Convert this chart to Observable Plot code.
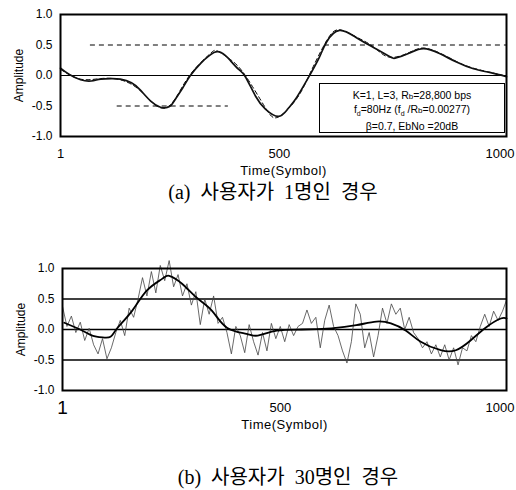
<!DOCTYPE html>
<html><head><meta charset="utf-8">
<script src="https://cdn.jsdelivr.net/npm/d3@7"></script>
<script src="https://cdn.jsdelivr.net/npm/@observablehq/plot@0.6"></script>
<style>
body{margin:0;background:#fff;width:516px;height:490px;position:relative;overflow:hidden;font-family:"Liberation Sans",Arial,sans-serif}
.abs{position:absolute}
.cap{font-family:"Liberation Serif","Noto Sans CJK KR",serif;font-size:20px;line-height:20px;word-spacing:5px;white-space:nowrap;transform:translateX(-50%)}
.legend{border:1.5px solid #000;background:#fff;font-size:10.5px;line-height:12px;text-align:center;box-sizing:border-box;padding-top:5px}
g[aria-label="x-axis label"] text{letter-spacing:0.5px;font-weight:normal}
</style></head><body>
<div id="a" class="abs" style="left:0;top:0"></div>
<div class="abs legend" style="left:319px;top:83px;width:186px;height:50px">K=1, L=3, R<sub style="font-size:8px;vertical-align:baseline">b</sub>=28,800 bps<br>f<sub style="font-size:7px">d</sub>=80Hz (f<sub style="font-size:7px">d</sub> /R<sub style="font-size:8px;vertical-align:baseline">b</sub>=0.00277)<br>β=0.7, EbNo =20dB</div>
<div class="abs cap" style="left:273px;top:182px">(a) 사용자가 1명인 경우</div>
<div id="b" class="abs" style="left:0;top:250px"></div>
<div class="abs cap" style="left:288px;top:467px">(b) 사용자가 30명인 경우</div>
<script>
// ---- shared axis data ----
const xTickStart = [1];
const xTickMid = [500];
const xTickEnd = [1000];
const yTicks = [-1, -0.5, 0, 0.5, 1];

// ---- chart (a): one user ----
const aTime = [1,20,46,70,91,115,135,160,180,203,225,245,259,275,292,315,335,353,370,382,400,415,438,460,489,510,530,559,581,597,626,664,702,738,754,783,814,850,888,926,962,1000];
const aMeasured = [0.12,0.02,-0.07,-0.09,-0.06,-0.05,-0.06,-0.12,-0.24,-0.42,-0.52,-0.51,-0.38,-0.2,0.0,0.2,0.33,0.39,0.33,0.24,0.1,-0.02,-0.34,-0.55,-0.67,-0.55,-0.36,0.0,0.3,0.55,0.74,0.62,0.46,0.31,0.29,0.37,0.44,0.36,0.22,0.11,0.05,-0.02];
const aIdealTime = [1,46,91,135,180,225,259,292,335,353,382,415,460,489,530,559,597,626,664,702,738,783,814,850,888,926,1000];
const aIdeal = [0.1,-0.06,-0.05,-0.07,-0.25,-0.53,-0.37,0.02,0.35,0.4,0.26,0.0,-0.53,-0.68,-0.38,0.02,0.57,0.75,0.63,0.47,0.3,0.38,0.45,0.37,0.23,0.12,-0.01];
const aDashLevel = [0.5, -0.5];
const aDashStart = [68, 128];
const aDashEnd = [1000, 377];

// ---- chart (b): thirty users ----
const bSmoothTime = [5,46,68,91,109,124,158,191,225,241,270,303,337,371,415,440,483,539,606,662,707,740,774,807,852,886,919,953,987,1000];
const bSmooth = [0.11,-0.02,-0.1,-0.13,-0.12,0.02,0.31,0.64,0.83,0.88,0.75,0.52,0.31,0.03,-0.07,-0.1,-0.02,0.0,0.02,0.07,0.13,0.1,-0.02,-0.2,-0.34,-0.34,-0.18,0.03,0.18,0.18];
const bNoisyTime = [1,11,21,31,41,51,61,71,81,91,101,111,121,131,141,151,161,171,181,191,201,211,221,231,241,251,261,271,281,291,301,311,321,331,341,351,361,371,381,391,401,411,421,431,441,451,461,471,481,491,501,511,521,531,541,551,561,571,581,591,601,611,621,631,641,651,661,671,681,691,701,711,721,731,741,751,761,771,781,791,801,811,821,831,841,851,861,871,881,891,901,911,921,931,941,951,961,971,981,991,1000];
const bNoisy = [0.38,0.05,0.22,-0.05,0.12,-0.18,0.02,-0.25,-0.4,-0.15,-0.48,-0.3,-0.05,0.15,-0.1,0.35,0.2,0.5,0.85,0.55,0.95,0.6,1.05,0.8,1.13,0.7,0.9,0.55,0.75,0.4,0.62,0.08,0.5,0.25,0.55,0.1,0.2,-0.05,-0.4,0.05,-0.1,-0.38,0.08,-0.2,-0.42,-0.05,-0.35,0.1,-0.15,0.05,-0.2,0.08,-0.1,0.05,0.1,0.32,0.1,0.2,-0.3,0.15,0.4,0.05,-0.1,-0.35,-0.55,-0.2,0.42,0.25,-0.3,-0.05,-0.45,-0.1,0.35,0.1,0.42,0.25,0.35,0.0,0.2,-0.05,-0.15,-0.3,-0.2,-0.4,-0.25,-0.45,-0.25,-0.5,-0.3,-0.58,-0.3,-0.35,-0.1,-0.2,0.05,0.25,0.05,0.3,0.15,0.3,0.48];
const bGrid = [0.5, 0, -0.5];

const zip = (t, v) => t.map((d, i) => ({t: d, v: v[i]}));
const font = {fontFamily: "Liberation Sans, Arial, sans-serif", fontSize: "12px", background: "#fff", color: "#000", overflow: "visible"};

const axisMarks = (firstSize) => [
  Plot.axisX(xTickStart, {tickSize: 0, tickPadding: 17 - 0.36 * firstSize, tickFormat: d => String(d), fontSize: firstSize, label: null}),
  Plot.axisX(xTickMid, {tickSize: 0, tickPadding: 12, tickFormat: d => String(d), fontSize: 13, dx: -4, label: null}),
  Plot.axisX(xTickEnd, {tickSize: 0, tickPadding: 12, tickFormat: d => String(d), fontSize: 13, textAnchor: "end", dx: 8, label: null}),
  Plot.axisX({ticks: [], tickSize: 0, label: "Time(Symbol)", labelAnchor: "center", labelOffset: 38, labelArrow: "none", fontSize: 13, fontWeight: "normal", dx: -4}),
  Plot.axisY(yTicks, {tickSize: 0, tickPadding: 8, tickFormat: d => d.toFixed(1), label: "Amplitude", labelAnchor: "center", labelOffset: 46, labelArrow: "none"})
];

const dashRows = aDashLevel.map((y, i) => ({y, x1: aDashStart[i], x2: aDashEnd[i]}));

const chartA = Plot.plot({
  width: 516, height: 175, marginLeft: 60, marginRight: 10, marginTop: 14, marginBottom: 39,
  style: font,
  x: {domain: [1, 1000]},
  y: {domain: [-1, 1]},
  marks: [
    ...axisMarks(13),
    Plot.ruleY([0], {stroke: "#000", strokeWidth: 1}),
    Plot.ruleY(dashRows, {y: "y", x1: "x1", x2: "x2", stroke: "#000", strokeWidth: 1, strokeDasharray: "5,4"}),
    Plot.line(zip(aIdealTime, aIdeal), {x: "t", y: "v", curve: "natural", stroke: "#000", strokeWidth: 1, strokeDasharray: "4,3"}),
    Plot.line(zip(aTime, aMeasured), {x: "t", y: "v", curve: "natural", stroke: "#111", strokeWidth: 1.7}),
    Plot.frame({stroke: "#000", strokeWidth: 2})
  ]
});
document.getElementById("a").append(chartA);

const chartB = Plot.plot({
  width: 516, height: 182, marginLeft: 62, marginRight: 10, marginTop: 18, marginBottom: 42,
  style: font,
  x: {domain: [1, 1000]},
  y: {domain: [-1, 1]},
  marks: [
    ...axisMarks(19),
    Plot.ruleY(bGrid, {stroke: "#000", strokeWidth: 1.3}),
    Plot.line(zip(bNoisyTime, bNoisy), {x: "t", y: "v", stroke: "#444", strokeWidth: 0.8}),
    Plot.line(zip(bSmoothTime, bSmooth), {x: "t", y: "v", curve: "natural", stroke: "#000", strokeWidth: 1.8}),
    Plot.frame({stroke: "#000", strokeWidth: 2})
  ]
});
document.getElementById("b").append(chartB);
</script>
</body></html>
